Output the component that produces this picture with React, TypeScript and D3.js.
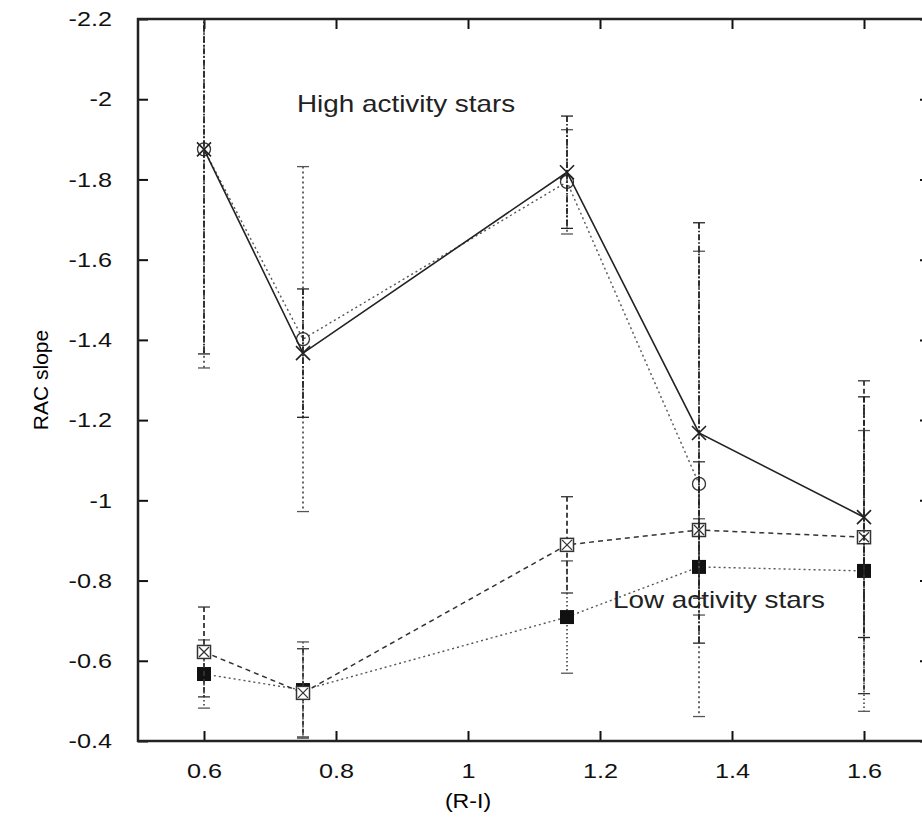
import { useEffect, useRef } from 'react';
import * as d3 from 'd3';

// x positions (R-I)
const xValues = [0.6, 0.75, 1.15, 1.35, 1.6];

// high activity stars
const highCross = [-1.875, -1.367, -1.818, -1.168, -0.958];
const highCrossErr = [0.51, 0.16, 0.14, 0.524, 0.3];
const highCircle = [-1.875, -1.402, -1.794, -1.041];
const highCircleErr = [0.545, 0.43, 0.13, 0.58];

// low activity stars
const lowBox = [-0.622, -0.52, -0.889, -0.926, -0.908];
const lowBoxErr = [0.112, 0.11, 0.12, 0.17, 0.39];
const lowFilled = [-0.567, -0.527, -0.709, -0.834, -0.824];
const lowFilledErr = [0.085, 0.12, 0.14, 0.12, 0.35];

const xTicks = [0.6, 0.8, 1, 1.2, 1.4, 1.6];
const yTicks = [-2.2, -2, -1.8, -1.6, -1.4, -1.2, -1, -0.8, -0.6, -0.4];

type Pt = { x: number; y: number; e: number };

// the scan is a bit wider than tall, so horizontal text is stretched
const stretch = (sel: any, k: number) =>
  sel.each(function (this: SVGTextElement) {
    const w = this.getComputedTextLength();
    d3.select(this).attr('textLength', w * k).attr('lengthAdjust', 'spacingAndGlyphs');
  });

const App = () => {
  const svgRef = useRef<SVGSVGElement>(null);

  useEffect(() => {
    const svg = d3.select(svgRef.current);
    svg.selectAll('*').remove();

    const left = 138, right = 930, top = 19, bottom = 741;
    const x = d3.scaleLinear().domain([0.5, 1.7]).range([left, right]);
    const y = d3.scaleLinear().domain([-0.4, -2.2]).range([bottom, top]);
    const font = 'Liberation Sans, Arial, Helvetica, sans-serif';

    svg
      .append('defs')
      .append('clipPath')
      .attr('id', 'plot-clip')
      .append('rect')
      .attr('x', left)
      .attr('y', top)
      .attr('width', right - left)
      .attr('height', bottom - top);

    // Axes (ticks inward, gnuplot style)
    const yAxis = svg
      .append('g')
      .attr('transform', `translate(${left},0)`)
      .call(
        d3.axisLeft(y).tickValues(yTicks).tickFormat((d) => String(d)).tickSizeInner(-10).tickSizeOuter(0).tickPadding(26)
      );
    const xAxis = svg
      .append('g')
      .attr('transform', `translate(0,${bottom})`)
      .call(
        d3.axisBottom(x).tickValues(xTicks).tickFormat((d) => String(d)).tickSizeInner(-10).tickSizeOuter(0).tickPadding(22)
      );
    // mirrored ticks
    svg
      .append('g')
      .attr('transform', `translate(0,${top})`)
      .call(d3.axisTop(x).tickValues(xTicks).tickFormat(() => '').tickSizeInner(-10).tickSizeOuter(0));
    svg
      .append('g')
      .attr('transform', `translate(${right},0)`)
      .call(d3.axisRight(y).tickValues(yTicks).tickFormat(() => '').tickSizeInner(-10).tickSizeOuter(0));

    svg.selectAll('.domain').remove();
    svg.selectAll('.tick line').attr('stroke', '#111').attr('stroke-width', 2);
    [yAxis, xAxis].forEach((g) => {
      const t = g.selectAll('text').style('font-family', font).style('font-size', '21px').attr('fill', '#111');
      stretch(t, 1.2);
    });

    svg
      .append('rect')
      .attr('x', left)
      .attr('y', top)
      .attr('width', right - left)
      .attr('height', bottom - top)
      .attr('fill', 'none')
      .attr('stroke', '#222')
      .attr('stroke-width', 2.5);

    // Axis labels
    const xl = svg
      .append('text')
      .attr('x', x(1))
      .attr('y', 808)
      .attr('text-anchor', 'middle')
      .style('font-family', font)
      .style('font-size', '21px')
      .text('(R-I)');
    stretch(xl, 1.1);
    svg
      .append('text')
      .attr('transform', `translate(48,${(top + bottom) / 2}) rotate(-90)`)
      .attr('text-anchor', 'middle')
      .style('font-family', font)
      .style('font-size', '21px')
      .text('RAC slope');

    const plot = svg.append('g').attr('clip-path', 'url(#plot-clip)');

    const toPts = (vals: number[], errs: number[]): Pt[] =>
      vals.map((v, i) => ({ x: xValues[i], y: v, e: errs[i] }));

    const line = d3
      .line<Pt>()
      .x((d) => x(d.x))
      .y((d) => y(d.y));

    const series = [
      { pts: toPts(lowFilled, lowFilledErr), marker: 'filled', lineDash: '2,3', barDash: '1.5,2.5', color: '#555', width: 1.4 },
      { pts: toPts(lowBox, lowBoxErr), marker: 'box', lineDash: '5,4', barDash: '5,3', color: '#333', width: 1.5 },
      { pts: toPts(highCircle, highCircleErr), marker: 'circle', lineDash: '2,3', barDash: '2,3', color: '#555', width: 1.4 },
      { pts: toPts(highCross, highCrossErr), marker: 'cross', lineDash: null, barDash: '6,2,1.5,2', color: '#222', width: 1.6 },
    ];

    series.forEach((s) => {
      // error bars
      const bars = plot.append('g');
      s.pts.forEach((p) => {
        const cx = x(p.x);
        const y1 = y(p.y - p.e);
        const y2 = y(p.y + p.e);
        bars
          .append('line')
          .attr('x1', cx)
          .attr('x2', cx)
          .attr('y1', y1)
          .attr('y2', y2)
          .attr('stroke', s.color)
          .attr('stroke-width', 1.8)
          .attr('stroke-dasharray', s.barDash);
        [y1, y2].forEach((yy) =>
          bars
            .append('line')
            .attr('x1', cx - 6)
            .attr('x2', cx + 6)
            .attr('y1', yy)
            .attr('y2', yy)
            .attr('stroke', s.color)
            .attr('stroke-width', 1.3)
        );
      });

      // connecting line
      plot
        .append('path')
        .datum(s.pts)
        .attr('d', line)
        .attr('fill', 'none')
        .attr('stroke', s.color)
        .attr('stroke-width', s.width)
        .attr('stroke-dasharray', s.lineDash);

      // markers
      const mk = plot.append('g');
      s.pts.forEach((p) => {
        const cx = x(p.x);
        const cy = y(p.y);
        if (s.marker === 'filled') {
          mk.append('rect').attr('x', cx - 7).attr('y', cy - 7).attr('width', 14).attr('height', 14).attr('fill', '#111');
        } else if (s.marker === 'box') {
          mk.append('rect')
            .attr('x', cx - 6.5)
            .attr('y', cy - 6.5)
            .attr('width', 13)
            .attr('height', 13)
            .attr('fill', '#fff')
            .attr('stroke', '#333')
            .attr('stroke-width', 1.5);
          mk.append('path')
            .attr('d', `M${cx - 5},${cy - 5}L${cx + 5},${cy + 5}M${cx - 5},${cy + 5}L${cx + 5},${cy - 5}`)
            .attr('stroke', '#333')
            .attr('stroke-width', 1.3);
        } else if (s.marker === 'circle') {
          mk.append('circle').attr('cx', cx).attr('cy', cy).attr('r', 6.5).attr('fill', 'none').attr('stroke', '#333').attr('stroke-width', 1.3);
        } else {
          mk.append('path')
            .attr('d', `M${cx - 7},${cy - 7}L${cx + 7},${cy + 7}M${cx - 7},${cy + 7}L${cx + 7},${cy - 7}`)
            .attr('stroke', '#222')
            .attr('stroke-width', 1.6);
        }
      });
    });

    // annotations
    const hi = svg
      .append('text')
      .attr('x', 297)
      .attr('y', 112)
      .style('font-family', font)
      .style('font-size', '24px')
      .attr('fill', '#222')
      .text('High activity stars');
    stretch(hi, 1.16);
    const lo = svg
      .append('text')
      .attr('x', 613)
      .attr('y', 608)
      .style('font-family', font)
      .style('font-size', '24px')
      .attr('fill', '#222')
      .text('Low activity stars');
    stretch(lo, 1.16);
  }, []);

  return (
    <svg
      ref={svgRef}
      width={922}
      height={827}
      style={{ position: 'absolute', left: 0, top: 0, background: '#fff' }}
    />
  );
};

export default App;
